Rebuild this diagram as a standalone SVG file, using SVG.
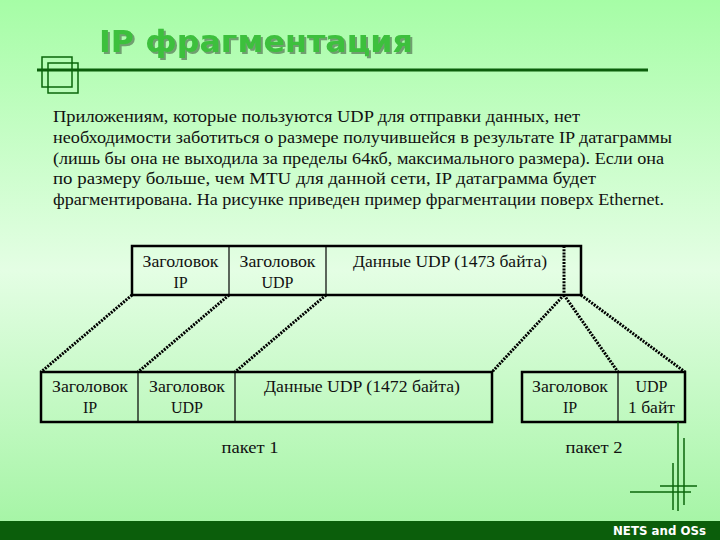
<svg xmlns="http://www.w3.org/2000/svg" width="720" height="540" viewBox="0 0 720 540">
<defs>
<linearGradient id="bg" x1="0" y1="0" x2="0" y2="1">
<stop offset="0" stop-color="#a6fda6"/>
<stop offset="0.5" stop-color="#e4fee4"/>
<stop offset="1" stop-color="#a2f4a2"/>
</linearGradient>
<filter id="shadow" x="-5%" y="-20%" width="110%" height="150%">
<feFlood flood-color="#6f9f6f" result="c"/>
<feComposite in="c" in2="SourceAlpha" operator="in" result="s"/>
<feOffset in="s" dx="2" dy="2" result="o"/>
<feMerge><feMergeNode in="o"/><feMergeNode in="SourceGraphic"/></feMerge>
</filter>
<style>
.t{font-family:'Liberation Serif',Tinos,'Times New Roman',Times,'Noto Serif','DejaVu Serif',FreeSerif,serif;font-size:16px;fill:#111}
.c{text-anchor:middle}
.box{fill:none;stroke:#000;stroke-width:2.5}
.div{stroke:#000;stroke-width:1.2}
.dot{stroke:#000;stroke-width:3;stroke-dasharray:2 1.2;fill:none}
.deco{stroke:#0b660b;stroke-width:1.5;fill:none}
</style>
</defs>
<rect x="0" y="0" width="720" height="540" fill="url(#bg)"/>

<g id="title">
<text x="99" y="52" font-family="DejaVu Sans, Verdana, sans-serif" font-weight="bold" font-size="30" fill="#3cc03c" textLength="314" lengthAdjust="spacingAndGlyphs" filter="url(#shadow)">IP фрагментация</text>
<line x1="37" y1="70" x2="648" y2="70" stroke="#0b5e0b" stroke-width="3"/>
<rect x="42" y="57" width="30" height="30" class="deco"/>
<rect x="48" y="63" width="30" height="30" class="deco"/>
</g>

<g id="paragraph" xml:space="preserve">
<text class="t" x="53" y="122" textLength="527" lengthAdjust="spacingAndGlyphs">Приложениям, которые пользуются UDP для отправки данных,  нет</text>
<text class="t" x="53" y="143" textLength="619" lengthAdjust="spacingAndGlyphs">необходимости заботиться о размере получившейся в результате IP датаграммы</text>
<text class="t" x="53" y="163.5" textLength="611" lengthAdjust="spacingAndGlyphs">(лишь бы она не выходила за пределы 64кб, максимального размера). Если она</text>
<text class="t" x="53" y="184" textLength="543" lengthAdjust="spacingAndGlyphs">по размеру больше, чем MTU для данной сети, IP датаграмма будет</text>
<text class="t" x="53" y="205" textLength="611" lengthAdjust="spacingAndGlyphs">фрагментирована. На рисунке приведен пример фрагментации поверх Ethernet.</text>
</g>

<g id="connectors">
<line class="dot" x1="132" y1="295" x2="41" y2="372"/>
<line class="dot" x1="229" y1="295" x2="138" y2="372"/>
<line class="dot" x1="326" y1="295" x2="235" y2="372"/>
<line class="dot" x1="564" y1="295" x2="492" y2="372"/>
<line class="dot" x1="564" y1="295" x2="618" y2="372"/>
<line class="dot" x1="581" y1="295" x2="685" y2="372"/>
</g>

<g id="datagram">
<rect class="box" x="132" y="246" width="449" height="49"/>
<line class="div" x1="229" y1="246" x2="229" y2="295"/>
<line class="div" x1="326" y1="246" x2="326" y2="295"/>
<line class="dot" x1="564" y1="246" x2="564" y2="295" stroke-width="2"/>
<text class="t c" x="180.5" y="267" textLength="76" lengthAdjust="spacingAndGlyphs">Заголовок</text>
<text class="t c" x="180.5" y="288">IP</text>
<text class="t c" x="277.5" y="267" textLength="76" lengthAdjust="spacingAndGlyphs">Заголовок</text>
<text class="t c" x="277.5" y="288">UDP</text>
<text class="t c" x="450" y="267" textLength="194" lengthAdjust="spacingAndGlyphs">Данные UDP (1473 байта)</text>
</g>

<g id="packet1">
<rect class="box" x="41" y="372" width="451" height="50"/>
<line class="div" x1="138" y1="372" x2="138" y2="422"/>
<line class="div" x1="235" y1="372" x2="235" y2="422"/>
<text class="t c" x="90" y="392" textLength="76" lengthAdjust="spacingAndGlyphs">Заголовок</text>
<text class="t c" x="90" y="413">IP</text>
<text class="t c" x="187" y="392" textLength="76" lengthAdjust="spacingAndGlyphs">Заголовок</text>
<text class="t c" x="187" y="413">UDP</text>
<text class="t c" x="362" y="392" textLength="196" lengthAdjust="spacingAndGlyphs">Данные UDP (1472 байта)</text>
<text class="t c" x="250" y="453" textLength="57" lengthAdjust="spacingAndGlyphs">пакет 1</text>
</g>

<g id="packet2">
<rect class="box" x="522" y="372" width="163" height="50"/>
<line class="div" x1="618" y1="372" x2="618" y2="422"/>
<text class="t c" x="570" y="392" textLength="76" lengthAdjust="spacingAndGlyphs">Заголовок</text>
<text class="t c" x="570" y="413">IP</text>
<text class="t c" x="651.5" y="392">UDP</text>
<text class="t c" x="651.5" y="413" textLength="47" lengthAdjust="spacingAndGlyphs">1 байт</text>
<text class="t c" x="594" y="453" textLength="57" lengthAdjust="spacingAndGlyphs">пакет 2</text>
</g>

<g id="decoration">
<line class="deco" x1="678" y1="422" x2="678" y2="511"/>
<line class="deco" x1="684" y1="438" x2="684" y2="505"/>
<line class="deco" x1="673" y1="463" x2="673" y2="510"/>
<line class="deco" x1="660" y1="486" x2="697" y2="486"/>
<line class="deco" x1="630" y1="492" x2="691" y2="492"/>
</g>

<g id="footer">
<rect x="0" y="521" width="720" height="19" fill="#0b5e0b"/>
<text x="706" y="534.5" text-anchor="end" font-family="DejaVu Sans, Verdana, sans-serif" font-weight="bold" font-size="12" fill="#ffffff" textLength="93" lengthAdjust="spacingAndGlyphs">NETS and OSs</text>
</g>
</svg>
